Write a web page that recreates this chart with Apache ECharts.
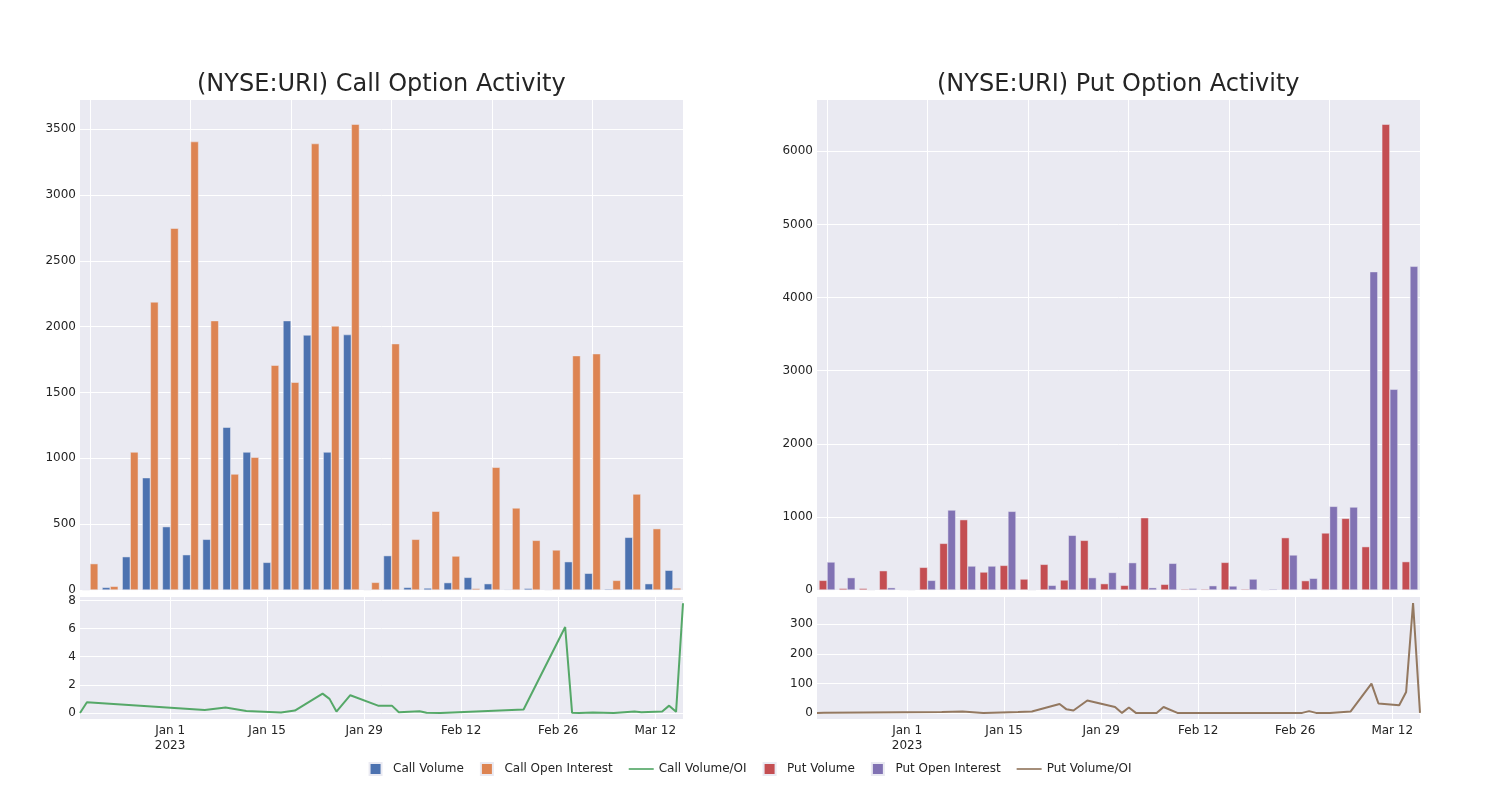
<!DOCTYPE html>
<html><head><meta charset="utf-8">
<script src="https://cdn.jsdelivr.net/npm/echarts@6/dist/echarts.min.js"></script>
<style>html,body{margin:0;padding:0;background:#fff}#c{width:1500px;height:800px}</style>
</head><body><div id="c"></div>
<script>
// ---- data ----
const dates = ['2022-12-19','2022-12-20','2023-01-06','2023-01-09','2023-01-12','2023-01-17','2023-01-19','2023-01-23','2023-01-24','2023-01-25','2023-01-27','2023-01-31','2023-02-01','2023-02-02','2023-02-03','2023-02-06','2023-02-07','2023-02-09','2023-02-21','2023-02-27','2023-02-28','2023-03-01','2023-03-03','2023-03-06','2023-03-09','2023-03-10','2023-03-13','2023-03-14','2023-03-15','2023-03-16'];
const callVolume = [2,20,253,853,481,268,385,1236,1048,210,2046,1937,1048,1940,2,261,20,15,56,96,48,5,13,2,215,127,8,400,48,150];
const callOI = [200,28,1048,2188,2748,3406,2046,881,1008,1707,1578,3391,2006,3538,58,1871,385,598,258,12,932,623,377,304,1780,1795,73,729,466,15];
const callRatio = [0,0.76,0.21,0.38,0.14,0.03,0.17,1.37,1.0,0.1,1.26,0.52,0.52,0.52,0.05,0.12,0.02,0,0.24,6.11,0.01,0,0.03,0,0.1,0.05,0.1,0.52,0.08,7.8];
const putVolume = [132,23,23,264,5,310,638,962,246,337,150,351,137,679,87,64,989,78,14,14,378,14,0,716,128,780,980,593,6370,388];
const putOI = [383,169,2,32,2,132,1094,328,328,1076,2,64,748,169,240,374,32,365,23,59,55,150,14,479,160,1144,1135,4354,2745,4427];
const putRatio = [0,0.5,3,5,0,3,5,30,12,8,42,20,0,18,0,0,20,0,0,0,6,0,0,5,99,32,26,71,372,0];
const dateTicks = ['2023-01-01','2023-01-15','2023-01-29','2023-02-12','2023-02-26','2023-03-12'];
const callBarTicks = [0,500,1000,1500,2000,2500,3000,3500];
const putBarTicks = [0,1000,2000,3000,4000,5000,6000];
const callLineTicks = [0,2,4,6,8];
const putLineTicks = [0,100,200,300];
const titles = ['(NYSE:URI) Call Option Activity','(NYSE:URI) Put Option Activity'];
const names = ['Call Volume','Call Open Interest','Call Volume/OI','Put Volume','Put Open Interest','Put Volume/OI'];

// ---- helpers ----
const FONT = 'DejaVu Sans', TXT = 'rgb(36,36,36)', BG = '#EAEAF2';
const MON = ['Jan','Feb','Mar','Apr','May','Jun','Jul','Aug','Sep','Oct','Nov','Dec'];
const BASE = Date.UTC(2023,0,1);
function dayOf(s){const p=s.split('-').map(Number);return (Date.UTC(p[0],p[1]-1,p[2])-BASE)/86400000;}
function dayLabel(v){const d=new Date(BASE+Math.round(v)*86400000);let s=MON[d.getUTCMonth()]+' '+d.getUTCDate();if(Math.round(v)===0)s+='\n2023';return s;}
const xMin = dayOf(dates[0]), xMax = dayOf(dates[dates.length-1]);
const tickDays = dateTicks.map(dayOf);

const L = [80, 817], W = 603;
const grids = [];
L.forEach(l=>{
  grids.push({left:l, top:100, width:W, height:490, show:true, backgroundColor:BG, borderWidth:0});
  grids.push({left:l, top:597, width:W, height:122, show:true, backgroundColor:BG, borderWidth:0});
});
const white = {show:true, lineStyle:{color:'#ffffff', width:1}};
const lbl = {color:TXT, fontSize:12, fontFamily:FONT, margin:4, formatter:v=>String(v)};
const xAxes = [], yAxes = [];
[0,1].forEach(k=>{
  xAxes.push({type:'category', gridIndex:2*k, data:dates, axisLine:{show:false},
    axisTick:{show:false, alignWithLabel:true, interval:4}, axisLabel:{show:false, interval:4},
    splitLine:Object.assign({interval:4, alignWithLabel:true}, white)});
  xAxes.push({type:'value', gridIndex:2*k+1, min:xMin, max:xMax, axisLine:{show:false},
    axisTick:{show:false, customValues:tickDays}, splitLine:white,
    axisLabel:Object.assign({}, lbl, {margin:4, lineHeight:15, customValues:tickDays, formatter:dayLabel})});
});
function yAx(gi, min, max, ticks){
  return {type:'value', gridIndex:gi, min, max, axisLine:{show:false},
    axisTick:{show:false, customValues:ticks}, splitLine:white,
    axisLabel:Object.assign({customValues:ticks}, lbl)};
}
yAxes.push(yAx(0, 0, 3722, callBarTicks));
yAxes.push(yAx(1, -0.43, 8.24, callLineTicks));
yAxes.push(yAx(2, 0, 6702, putBarTicks));
yAxes.push(yAx(3, -20.7, 392.7, putLineTicks));

const colors = ['#4C72B0','#DD8452','#55A868','#C44E52','#8172B3','#937860'];
function bar(name, data, color, xi, yi){
  return {name, type:'bar', xAxisIndex:xi, yAxisIndex:yi, data, barGap:'0%', barCategoryGap:'20%',
    itemStyle:{color, borderColor:'rgb(234,234,242)', borderWidth:0.5}};
}
function line(name, data, color, xi, yi){
  return {name, type:'line', xAxisIndex:xi, yAxisIndex:yi, symbol:'none', showSymbol:false,
    data: dates.map((d,i)=>[dayOf(d), data[i]]), lineStyle:{color, width:2}, itemStyle:{color}};
}
const series = [
  bar(names[0], callVolume, colors[0], 0, 0),
  bar(names[1], callOI, colors[1], 0, 0),
  line(names[2], callRatio, colors[2], 1, 1),
  bar(names[3], putVolume, colors[3], 2, 2),
  bar(names[4], putOI, colors[4], 2, 2),
  line(names[5], putRatio, colors[5], 3, 3)
];
const sq = 'path://M0,0h12v12h-12z';
const ln = 'path://M0,0h30v2h-30z';
const option = {
  animation:false,
  textStyle:{fontFamily:FONT},
  color:colors,
  title:[
    {text:titles[0], left:197, top:73, padding:0, textStyle:{fontFamily:FONT, fontSize:24, fontWeight:'normal', color:TXT}},
    {text:titles[1], left:937, top:73, padding:0, textStyle:{fontFamily:FONT, fontSize:24, fontWeight:'normal', color:TXT}}
  ],
  legend:{left:'center', top:762, itemWidth:25, itemHeight:12, itemGap:16, padding:0,
    textStyle:{fontFamily:FONT, fontSize:12, color:TXT},
    data:names.map((n,i)=> ({name:n, icon:(i%3===2) ? ln : sq}))},
  grid:grids, xAxis:xAxes, yAxis:yAxes, series
};
const chart = echarts.init(document.getElementById('c'), null, {renderer:'canvas'});
chart.setOption(option);
</script></body></html>
